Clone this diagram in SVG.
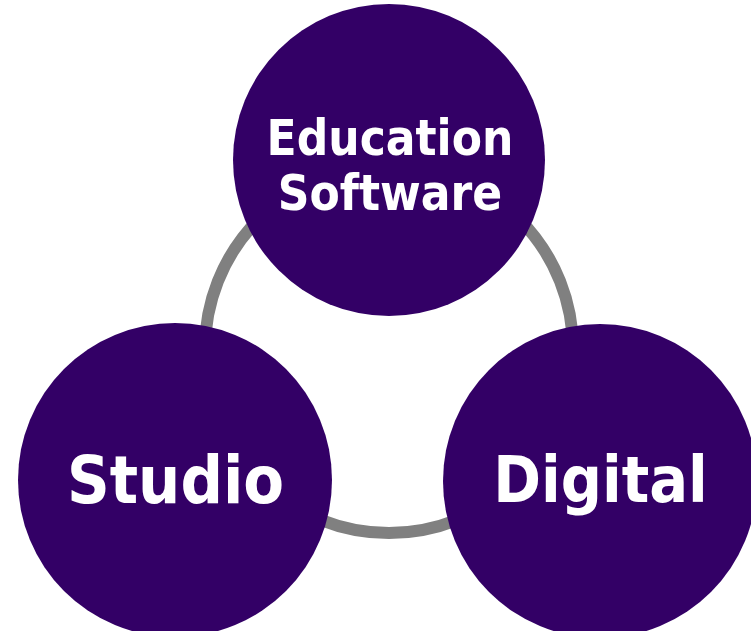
<svg xmlns="http://www.w3.org/2000/svg" width="751" height="631" viewBox="0 0 751 631">
<style>
.node{fill:#330066}
.lbl{fill:#ffffff;font-family:'DejaVu Sans Condensed','DejaVu Sans',sans-serif;font-stretch:condensed;font-weight:bold;text-anchor:middle}
.ring{fill:none;stroke:#808080;stroke-width:12}
</style>
<rect width="751" height="631" fill="#ffffff"/>
<g id="connectors">
<circle class="ring" cx="389" cy="349" r="184"/>
</g>
<g id="node-education">
<circle class="node" cx="389" cy="160" r="156"/>
<text class="lbl" x="390" y="155" font-size="49">Education</text>
<text class="lbl" x="390" y="210" font-size="49">Software</text>
</g>
<g id="node-studio">
<circle class="node" cx="175" cy="480" r="157"/>
<text class="lbl" x="175.5" y="503" font-size="66">Studio</text>
</g>
<g id="node-digital">
<circle class="node" cx="600" cy="481" r="157"/>
<text class="lbl" x="600.5" y="502" font-size="64">Digital</text>
</g>
</svg>
